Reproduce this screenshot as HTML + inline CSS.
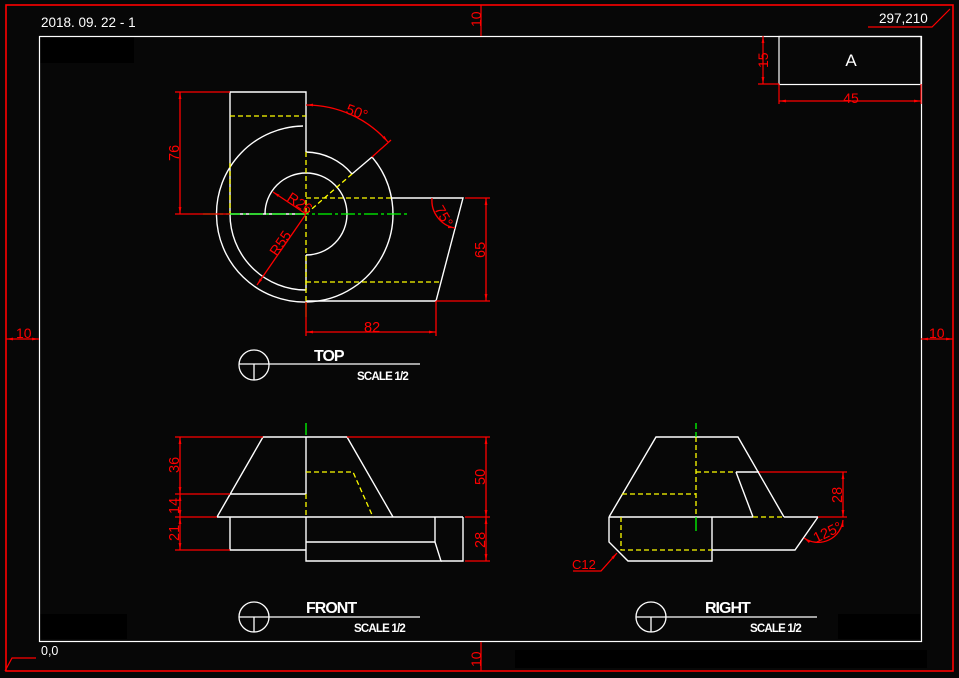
<!DOCTYPE html>
<html><head><meta charset="utf-8"><style>
html,body{margin:0;padding:0;background:#070707;}
svg{display:block;}
text{font-family:"Liberation Sans",sans-serif;}
</style></head><body>
<svg width="959" height="678" viewBox="0 0 959 678" xmlns="http://www.w3.org/2000/svg">
<defs>
<marker id="a" viewBox="0 0 10 10" refX="10" refY="5" markerWidth="7" markerHeight="7" orient="auto-start-reverse" markerUnits="userSpaceOnUse"><path d="M0,3 L10,5 L0,7 z" fill="#f00"/></marker>
</defs>
<rect width="959" height="678" fill="#070707"/>
<rect x="40" y="37" width="94" height="26" fill="#000"/>
<rect x="40" y="614" width="87" height="25" fill="#000"/>
<rect x="838" y="614" width="82" height="25" fill="#000"/>
<rect x="515" y="650" width="412" height="18" fill="#000"/>
<rect x="6" y="5" width="947" height="666" fill="none" stroke="#f00" stroke-width="1.6"/>
<rect x="39.5" y="36.5" width="882" height="605" fill="none" stroke="#fff" stroke-width="1.2"/>
<g stroke="#f00" stroke-width="1.2" fill="none">
<line x1="481" y1="5" x2="481" y2="36"/>
<line x1="481" y1="642" x2="481" y2="671"/>
<line x1="6" y1="339" x2="39" y2="339" marker-start="url(#a)" marker-end="url(#a)"/>
<line x1="921" y1="339" x2="953" y2="339" marker-start="url(#a)" marker-end="url(#a)"/>
<polyline points="868,27 932,27 950,9"/>
<polyline points="36,658 12,658 5,671"/>
</g>
<g fill="#f00" font-size="14">
<text x="16" y="338">10</text>
<text x="929" y="338">10</text>
<text transform="translate(481,27) rotate(-90)">10</text>
<text transform="translate(481,667) rotate(-90)">10</text>
</g>
<text x="41" y="27" fill="#fff" font-size="13.5">2018. 09. 22 - 1</text>
<text x="879" y="23" fill="#fff" font-size="13.5">297,210</text>
<text x="41" y="655" fill="#fff" font-size="12.5">0,0</text>
<rect x="779" y="36.5" width="142" height="48" fill="none" stroke="#fff" stroke-width="1.2"/>
<text x="851" y="66" fill="#fff" font-size="17" text-anchor="middle">A</text>
<g stroke="#f00" stroke-width="1.2" fill="none">
<line x1="763" y1="36" x2="763" y2="84" marker-start="url(#a)" marker-end="url(#a)"/><line x1="758" y1="84" x2="779" y2="84"/>
<line x1="779" y1="101" x2="921" y2="101" marker-start="url(#a)" marker-end="url(#a)"/><line x1="779" y1="84" x2="779" y2="104"/><line x1="921" y1="84" x2="921" y2="104"/>
</g>
<text transform="translate(768,68) rotate(-90)" fill="#f00" font-size="14">15</text>
<text x="851" y="103" fill="#f00" font-size="14" text-anchor="middle">45</text>

<!-- TOP VIEW -->
<g stroke="#fff" stroke-width="1.4" fill="none">
<polyline points="306,152 306,92 230,92 230,214 306,214"/>
<path d="M 303 126 A 88 88 0 0 0 306 302"/>
<path d="M 372 157 A 88 88 0 0 1 306 302"/>
<path d="M 230 214 A 76 76 0 0 0 306 290"/>
<path d="M 306 152 A 62 62 0 0 1 352 174"/>
<line x1="352" y1="174" x2="372" y2="157"/>
<path d="M 265 214 A 41 41 0 0 1 306 173"/>
<path d="M 306 173 A 41 41 0 0 1 306 255"/>
<line x1="306" y1="255" x2="306" y2="290"/>
<polyline points="392,198 463,198 436,301 306,301"/>
</g>
<g stroke="#ff0" stroke-width="1.3" fill="none" stroke-dasharray="5,3">
<line x1="230" y1="116" x2="306" y2="116"/>
<line x1="230" y1="163" x2="230" y2="214"/>
<line x1="306" y1="152" x2="306" y2="302"/>
<line x1="306" y1="214" x2="352" y2="174"/>
<line x1="306" y1="198" x2="392" y2="198"/>
<line x1="306" y1="282" x2="440" y2="282"/>
</g>
<g stroke="#0f0" stroke-width="1.3" fill="none">
<line x1="203" y1="214" x2="408" y2="214" stroke-dasharray="14,3,3,3"/>
<line x1="306" y1="302" x2="306" y2="317"/>
</g>
<g stroke="#f00" stroke-width="1.3" fill="none">
<line x1="175" y1="92" x2="230" y2="92"/><line x1="175" y1="214" x2="230" y2="214"/>
<line x1="180" y1="92" x2="180" y2="214" marker-start="url(#a)" marker-end="url(#a)"/>
<line x1="465" y1="198" x2="490" y2="198"/><line x1="436" y1="301" x2="490" y2="301"/>
<line x1="486" y1="198" x2="486" y2="301" marker-start="url(#a)" marker-end="url(#a)"/>
<line x1="306" y1="302" x2="306" y2="336"/><line x1="436" y1="301" x2="436" y2="336"/>
<line x1="306" y1="332" x2="436" y2="332" marker-start="url(#a)" marker-end="url(#a)"/>
<path d="M 306 105 A 109 109 0 0 1 388 142" marker-start="url(#a)" marker-end="url(#a)"/>
<line x1="372" y1="157" x2="391" y2="140"/>
<line x1="306" y1="214" x2="273" y2="192" marker-end="url(#a)"/>
<line x1="306" y1="214" x2="257" y2="285" marker-end="url(#a)"/>
<path d="M 432 198 A 28 28 0 0 0 455 228" marker-end="url(#a)"/>
</g>
<g fill="#f00" font-size="14.5">
<text transform="translate(179,161) rotate(-90)">76</text>
<text transform="translate(485,258) rotate(-90)">65</text>
<text x="364" y="332">82</text>
<text transform="translate(345,113) rotate(20)">50°</text>
<text transform="translate(286,200) rotate(33)">R26</text>
<text transform="translate(277,257) rotate(-56)">R55</text>
<text transform="translate(434,209) rotate(60)">75°</text>
</g>
<g stroke="#fff" fill="none" stroke-width="1.3">
<circle cx="254" cy="365" r="15"/>
<line x1="239" y1="364" x2="420" y2="364"/><line x1="254" y1="364" x2="254" y2="380"/>
<circle cx="254" cy="617" r="15"/>
<line x1="239" y1="617" x2="420" y2="617"/><line x1="254" y1="617" x2="254" y2="632"/>
<circle cx="651" cy="617" r="15"/>
<line x1="636" y1="617" x2="817" y2="617"/><line x1="651" y1="617" x2="651" y2="632"/>
</g>
<g fill="#fff" font-weight="bold">
<text x="314" y="361" font-size="16" letter-spacing="-1">TOP</text>
<text x="357" y="380" font-size="11.5" letter-spacing="-0.8">SCALE 1/2</text>
<text x="306" y="613" font-size="16" letter-spacing="-1">FRONT</text>
<text x="354" y="632" font-size="11.5" letter-spacing="-0.8">SCALE 1/2</text>
<text x="705" y="613" font-size="16" letter-spacing="-1">RIGHT</text>
<text x="750" y="632" font-size="11.5" letter-spacing="-0.8">SCALE 1/2</text>
</g>

<!-- FRONT VIEW -->
<g stroke="#fff" stroke-width="1.4" fill="none">
<polyline points="217,517 263,437 347,437 393,517"/>
<line x1="306" y1="437" x2="306" y2="494"/>
<line x1="230" y1="494" x2="306" y2="494"/>
<line x1="217" y1="517" x2="463" y2="517"/>
<polyline points="230,517 230,550 306,550"/>
<polyline points="306,517 306,561 441,561 435,542 435,517"/>
<line x1="306" y1="542" x2="435" y2="542"/>
<polyline points="463,517 463,561 441,561"/>
</g>
<g stroke="#ff0" stroke-width="1.3" fill="none" stroke-dasharray="5,3">
<line x1="306" y1="494" x2="306" y2="517"/>
<polyline points="306,472 353,472 373,517"/>
</g>
<line x1="306" y1="423" x2="306" y2="435" stroke="#0f0" stroke-width="1.3"/>
<g stroke="#f00" stroke-width="1.3" fill="none">
<line x1="175" y1="437" x2="263" y2="437"/>
<line x1="175" y1="494" x2="230" y2="494"/>
<line x1="175" y1="517" x2="217" y2="517"/>
<line x1="175" y1="550" x2="230" y2="550"/>
<line x1="180" y1="437" x2="180" y2="494" marker-start="url(#a)" marker-end="url(#a)"/>
<line x1="180" y1="494" x2="180" y2="517" marker-start="url(#a)" marker-end="url(#a)"/>
<line x1="180" y1="517" x2="180" y2="550" marker-start="url(#a)" marker-end="url(#a)"/>
<line x1="347" y1="437" x2="490" y2="437"/>
<line x1="465" y1="517" x2="490" y2="517"/>
<line x1="465" y1="561" x2="490" y2="561"/>
<line x1="486" y1="437" x2="486" y2="517" marker-start="url(#a)" marker-end="url(#a)"/>
<line x1="486" y1="517" x2="486" y2="561" marker-start="url(#a)" marker-end="url(#a)"/>
</g>
<g fill="#f00" font-size="14.5">
<text transform="translate(179,473) rotate(-90)">36</text>
<text transform="translate(179,514) rotate(-90)">14</text>
<text transform="translate(179,541) rotate(-90)">21</text>
<text transform="translate(485,485) rotate(-90)">50</text>
<text transform="translate(485,548) rotate(-90)">28</text>
</g>

<!-- RIGHT VIEW -->
<g stroke="#fff" stroke-width="1.4" fill="none">
<polyline points="609,517 656,437 738,437 784,517"/>
<line x1="736" y1="472" x2="759" y2="472"/>
<line x1="736" y1="472" x2="753" y2="517"/>
<line x1="609" y1="517" x2="753" y2="517"/><line x1="784" y1="517" x2="818" y2="517"/>
<polyline points="609,517 609,542 628,561 712,561 712,517"/>
<polyline points="712,550 795,550 818,517"/>
</g>
<g stroke="#ff0" stroke-width="1.3" fill="none" stroke-dasharray="5,3">
<line x1="696" y1="437" x2="696" y2="517"/>
<line x1="696" y1="472" x2="736" y2="472"/>
<line x1="622" y1="494" x2="696" y2="494"/>
<line x1="753" y1="517" x2="784" y2="517"/>
<polyline points="621,517 621,550 712,550"/>
</g>
<g stroke="#0f0" stroke-width="1.3" fill="none">
<line x1="696" y1="423" x2="696" y2="437" stroke-dasharray="6,3"/>
<line x1="696" y1="517" x2="696" y2="531"/>
</g>
<g stroke="#f00" stroke-width="1.3" fill="none">
<line x1="759" y1="472" x2="847" y2="472"/>
<line x1="818" y1="517" x2="847" y2="517"/>
<line x1="843" y1="472" x2="843" y2="517" marker-start="url(#a)" marker-end="url(#a)"/>
<path d="M 804 538 A 25 25 0 0 0 843 520" marker-start="url(#a)" marker-end="url(#a)"/>
<polyline points="573,571 601,571 617,553" marker-end="url(#a)"/>
</g>
<g fill="#f00" font-size="14.5">
<text transform="translate(842,503) rotate(-90)">28</text>
<text transform="translate(816,543) rotate(-25)">125°</text>
<text x="572" y="569" font-size="13">C12</text>
</g>
</svg>
</body></html>
